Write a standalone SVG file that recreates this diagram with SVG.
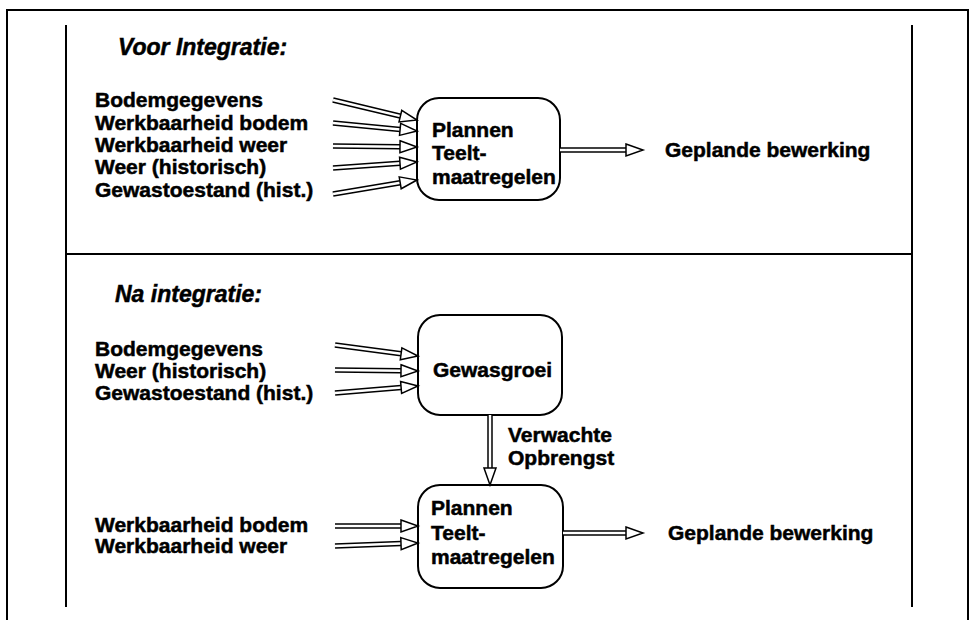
<svg xmlns="http://www.w3.org/2000/svg" width="971" height="620" viewBox="0 0 971 620">
<defs>
<marker id="head" markerUnits="userSpaceOnUse" markerWidth="20" markerHeight="16" refX="0" refY="8" orient="auto" overflow="visible">
<path d="M0,2 L17,8 L0,14 Z" fill="#fff" stroke="#000" stroke-width="1.5" stroke-linejoin="miter"/>
</marker>
</defs>
<style>
.frame{stroke:#000;stroke-width:2;fill:none}
.box{fill:#fff;stroke:#000;stroke-width:2}
.t{font-family:"Liberation Sans",Arial,Helvetica,sans-serif;font-weight:bold;font-size:21px;fill:#000;stroke:#000;stroke-width:0.5}
.title{font-family:"Liberation Sans",Arial,Helvetica,sans-serif;font-weight:bold;font-style:italic;font-size:23px;fill:#000;stroke:#000;stroke-width:0.5}
.so{stroke:#000;stroke-width:5.5;fill:none;stroke-linecap:butt}
.si{stroke:#fff;stroke-width:2.5;fill:none;stroke-linecap:butt;marker-end:url(#head)}
</style>
<rect width="971" height="620" fill="#fff"/>
<g id="frame">
<path class="frame" d="M7,620 V10 H968 V620" stroke-width="2.5"/>
<path class="frame" d="M66,25 V607 M912,25 V607 M66,254 H912"/>
</g>
<g id="titles">
<text class="title" x="118" y="55">Voor Integratie:</text>
<text class="title" x="115" y="302">Na integratie:</text>
</g>
<g id="inputs1">
<text class="t" x="95" y="107">Bodemgegevens</text>
<text class="t" x="95" y="130">Werkbaarheid bodem</text>
<text class="t" x="95" y="152">Werkbaarheid weer</text>
<text class="t" x="95" y="174">Weer (historisch)</text>
<text class="t" x="95" y="197">Gewastoestand (hist.)</text>
</g>
<g id="plannen1">
<rect class="box" x="417" y="98" width="143" height="102" rx="22"/>
<text class="t" x="432" y="137">Plannen</text>
<text class="t" x="432" y="160">Teelt-</text>
<text class="t" x="432" y="184">maatregelen</text>
</g>
<g id="output1">
<text class="t" x="665" y="157">Geplande bewerking</text>
</g>
<g id="inputs2a">
<text class="t" x="95" y="356">Bodemgegevens</text>
<text class="t" x="95" y="378">Weer (historisch)</text>
<text class="t" x="95" y="400">Gewastoestand (hist.)</text>
</g>
<g id="gewasgroei">
<rect class="box" x="418" y="315" width="144" height="100" rx="22"/>
<text class="t" x="433" y="377">Gewasgroei</text>
</g>
<g id="opbrengst">
<text class="t" x="508" y="442">Verwachte</text>
<text class="t" x="508" y="465">Opbrengst</text>
</g>
<g id="inputs2b">
<text class="t" x="95" y="532">Werkbaarheid bodem</text>
<text class="t" x="95" y="553">Werkbaarheid weer</text>
</g>
<g id="plannen2">
<rect class="box" x="418" y="485" width="145" height="103" rx="22"/>
<text class="t" x="431" y="515">Plannen</text>
<text class="t" x="431" y="540">Teelt-</text>
<text class="t" x="431" y="564">maatregelen</text>
</g>
<g id="output2">
<text class="t" x="668" y="540">Geplande bewerking</text>
</g>
<g id="connectors">
<path class="so" d="M333,100 L400.4,116.1"/><path class="si" d="M333,100 L400.4,116.1"/>
<path class="so" d="M333,123 L400.1,129.4"/><path class="si" d="M333,123 L400.1,129.4"/>
<path class="so" d="M333,146 L400,146.8"/><path class="si" d="M333,146 L400,146.8"/>
<path class="so" d="M333,168 L400,163.2"/><path class="si" d="M333,168 L400,163.2"/>
<path class="so" d="M333,194 L400.2,182.8"/><path class="si" d="M333,194 L400.2,182.8"/>
<path class="so" d="M560,150 L626,150"/><path class="si" d="M560,150 L626,150"/>
<path class="so" d="M335,345 L401.1,353.8"/><path class="si" d="M335,345 L401.1,353.8"/>
<path class="so" d="M335,370 L401,370.8"/><path class="si" d="M335,370 L401,370.8"/>
<path class="so" d="M335,393 L401.1,387.4"/><path class="si" d="M335,393 L401.1,387.4"/>
<path class="so" d="M490,415 L490,468"/><path class="si" d="M490,415 L490,468"/>
<path class="so" d="M335,526 L401,526"/><path class="si" d="M335,526 L401,526"/>
<path class="so" d="M335,546 L401,543.6"/><path class="si" d="M335,546 L401,543.6"/>
<path class="so" d="M563,533 L626,533"/><path class="si" d="M563,533 L626,533"/>
</g>
</svg>
